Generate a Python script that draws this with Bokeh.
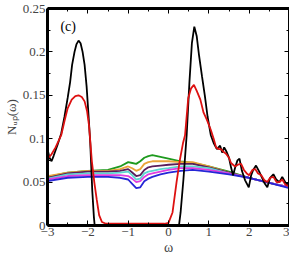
from bokeh.plotting import figure
from bokeh.models import LinearAxis, SingleIntervalTicker, NumeralTickFormatter, Label, CustomJSTickFormatter
from bokeh.embed import file_html
from bokeh.resources import INLINE

# ---- data ----
black_w = [-3, -2.95, -2.9, -2.85, -2.75, -2.66, -2.58, -2.5, -2.44, -2.39, -2.33, -2.28, -2.23, -2.18,
           -2.13, -2.08, -2.03, -1.98, -1.94, -1.89, -1.85, -1.83, -1.5, -1.0, -0.5, 0.0, 0.2, 0.26,
           0.3, 0.37, 0.45, 0.52, 0.58, 0.64, 0.7, 0.76, 0.83, 0.9, 0.97, 1.05, 1.12, 1.2, 1.28, 1.33,
           1.38, 1.44, 1.5, 1.55, 1.6, 1.66, 1.71, 1.76, 1.82, 1.9, 1.99, 2.05, 2.1, 2.17, 2.25, 2.32,
           2.39, 2.45, 2.52, 2.6, 2.67, 2.75, 2.82, 2.87, 2.93, 3.0]
black_v = [0.088, 0.078, 0.074, 0.08, 0.093, 0.106, 0.125, 0.147, 0.165, 0.185, 0.2, 0.209, 0.213, 0.21,
           0.2, 0.185, 0.16, 0.125, 0.095, 0.04, 0.01, 0.0, 0.0, 0.0, 0.0, 0.0, 0.0, 0.0,
           0.015, 0.053, 0.104, 0.166, 0.21, 0.229, 0.218, 0.195, 0.172, 0.15, 0.125, 0.104, 0.095, 0.088, 0.092, 0.084,
           0.09, 0.085, 0.078, 0.067, 0.058, 0.068, 0.075, 0.077, 0.063, 0.052, 0.044, 0.058, 0.064, 0.069, 0.062, 0.055,
           0.048, 0.044, 0.055, 0.059, 0.053, 0.05, 0.056, 0.052, 0.047, 0.05]

red_w = [-3, -2.9, -2.8, -2.66, -2.58, -2.5, -2.4, -2.31, -2.23, -2.15, -2.08, -2.02, -1.97, -1.9, -1.84,
         -1.78, -1.72, -1.65, -1.55, -1.0, -0.5, -0.1, 0.0, 0.1, 0.2, 0.28, 0.36, 0.41, 0.49, 0.56, 0.63,
         0.7, 0.79, 0.87, 0.95, 1.05, 1.12, 1.18, 1.25, 1.3, 1.36, 1.42, 1.5, 1.55, 1.6, 1.65, 1.72, 1.8,
         1.87, 1.94, 2.0, 2.08, 2.15, 2.22, 2.3, 2.38, 2.45, 2.52, 2.6, 2.68, 2.75, 2.82, 2.9, 3.0]
red_v = [0.077, 0.082, 0.09, 0.104, 0.12, 0.135, 0.145, 0.149, 0.15, 0.148, 0.143, 0.132, 0.115, 0.074, 0.05,
         0.03, 0.012, 0.004, 0.002, 0.002, 0.002, 0.002, 0.003, 0.015, 0.05, 0.075, 0.095, 0.104, 0.147, 0.158, 0.162,
         0.155, 0.145, 0.13, 0.122, 0.11, 0.1, 0.09, 0.088, 0.088, 0.085, 0.083, 0.078, 0.072, 0.07, 0.068, 0.07, 0.071,
         0.064, 0.06, 0.058, 0.064, 0.065, 0.06, 0.058, 0.052, 0.05, 0.055, 0.056, 0.05, 0.05, 0.053, 0.047, 0.045]

omega = [-3, -2.5, -2, -1.5, -1.2, -1.0, -0.9, -0.8, -0.7, -0.6, -0.5, -0.4, -0.2, 0, 0.3, 0.6, 1.0, 1.5, 2.0, 2.5, 3.0]
green = [0.056, 0.061, 0.063, 0.064, 0.068, 0.073, 0.072, 0.071, 0.074, 0.078, 0.080, 0.081, 0.079, 0.077, 0.074, 0.072, 0.068, 0.062, 0.055, 0.049, 0.044]
orange = [0.057, 0.061, 0.063, 0.063, 0.065, 0.068, 0.066, 0.063, 0.065, 0.071, 0.073, 0.074, 0.074, 0.074, 0.073, 0.073, 0.068, 0.061, 0.055, 0.049, 0.044]
purple = [0.055, 0.060, 0.062, 0.062, 0.063, 0.065, 0.061, 0.057, 0.058, 0.064, 0.067, 0.068, 0.069, 0.070, 0.071, 0.071, 0.067, 0.061, 0.055, 0.049, 0.044]
cyan = [0.054, 0.059, 0.060, 0.060, 0.061, 0.062, 0.058, 0.053, 0.054, 0.060, 0.062, 0.063, 0.065, 0.066, 0.068, 0.068, 0.066, 0.060, 0.055, 0.049, 0.044]
magenta = [0.053, 0.057, 0.058, 0.058, 0.058, 0.057, 0.054, 0.050, 0.051, 0.056, 0.059, 0.060, 0.062, 0.064, 0.066, 0.066, 0.064, 0.060, 0.055, 0.049, 0.044]
blue = [0.051, 0.055, 0.056, 0.056, 0.055, 0.053, 0.048, 0.043, 0.044, 0.051, 0.054, 0.056, 0.059, 0.061, 0.063, 0.064, 0.062, 0.059, 0.055, 0.049, 0.043]

FONT = "'Liberation Serif', 'Times New Roman', serif"

p = figure(width=289, height=257, x_range=(-3, 3), y_range=(0, 0.25),
           output_backend="svg", toolbar_location=None,
           min_border_left=0, min_border_right=0, min_border_top=8, min_border_bottom=0)
p.outline_line_color = None
p.xgrid.visible = False
p.ygrid.visible = False
p.background_fill_color = "white"

colored = [(green, "#1e9a1e"), (orange, "#eaa53a"), (purple, "#5a1d5a"),
           (cyan, "#5cd6cf"), (magenta, "#e03ce0"), (blue, "#2626d6")]
for vals, col in colored:
    p.line(omega, vals, line_color=col, line_width=1.8)

p.line(black_w, black_v, line_color="black", line_width=1.8)
p.line(red_w, red_v, line_color="#dd1111", line_width=1.8)

def style_axis(ax, show_labels):
    ax.axis_line_width = 3
    ax.axis_line_color = "black"
    ax.major_tick_in = 5
    ax.major_tick_out = 0
    ax.minor_tick_in = 3
    ax.minor_tick_out = 0
    ax.major_tick_line_color = "black"
    ax.minor_tick_line_color = "black"
    ax.major_label_text_font = FONT
    ax.axis_label_text_font = FONT
    ax.axis_label_text_font_style = "normal"
    if show_labels:
        ax.major_label_text_font_size = "13px"
        ax.major_label_standoff = 2
        ax.axis_label_text_font_size = "13px"
        ax.axis_label_standoff = 1
    else:
        ax.formatter = CustomJSTickFormatter(code="return '';")
        ax.major_label_standoff = 0

xt = SingleIntervalTicker(interval=1, num_minor_ticks=2)
yt = SingleIntervalTicker(interval=0.05, num_minor_ticks=2)
yfmt = NumeralTickFormatter(format="0.[00]")

p.xaxis.ticker = xt
p.yaxis.ticker = yt
p.yaxis.formatter = yfmt
p.xaxis.axis_label = "ω"
p.yaxis.axis_label = "Nᵤₚ(ω)"
style_axis(p.xaxis[0], True)
style_axis(p.yaxis[0], True)
p.xaxis[0].axis_label_text_font_size = "14px"

top = LinearAxis(ticker=SingleIntervalTicker(interval=1, num_minor_ticks=2))
right = LinearAxis(ticker=SingleIntervalTicker(interval=0.05, num_minor_ticks=2))
style_axis(top, False)
style_axis(right, False)
p.add_layout(top, "above")
p.add_layout(right, "right")

p.add_layout(Label(x=-2.68, y=0.229, text="(c)", text_font=FONT, text_font_size="14px",
                   text_baseline="middle", text_color="black"))

open("out.html", "w").write(file_html(p, INLINE))
